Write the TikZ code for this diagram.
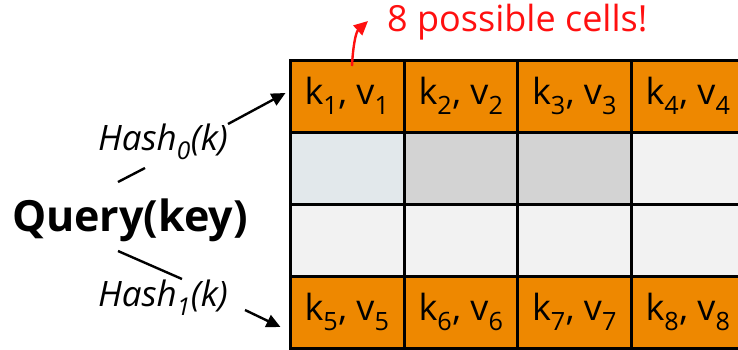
\documentclass[tikz,border=0pt]{standalone}
\usepackage{fontspec}
\setmainfont{Open Sans}
\usetikzlibrary{arrows.meta,calc}
\definecolor{cellorange}{HTML}{EE8800}
\definecolor{cellblue}{HTML}{E2E8EB}
\definecolor{cellgray}{HTML}{D3D3D3}
\definecolor{celllight}{HTML}{F2F2F2}
\definecolor{alertred}{HTML}{FF1010}
\tikzset{
  cell/.style={draw=black, line width=3pt, minimum width=114pt, minimum height=72pt, inner sep=0pt, font=\fontsize{36}{42}\selectfont},
  hashlabel/.style={font=\fontsize{35}{40}\selectfont\itshape, inner sep=0pt},
  conn/.style={line width=2.4pt, black},
  arr/.style={conn, -{Triangle[length=14pt,width=13pt]}},
}
\begin{document}
\begin{tikzpicture}[x=1pt,y=-1pt]
\useasboundingbox (0,0) rectangle (738,349);
% row 1
\node[cell, fill=cellorange] (c11) at (347,96) {k\textsubscript{1}, v\textsubscript{1}};
\node[cell, fill=cellorange] (c12) at (461,96) {k\textsubscript{2}, v\textsubscript{2}};
\node[cell, fill=cellorange] (c13) at (574.5,96) {k\textsubscript{3}, v\textsubscript{3}};
\node[cell, fill=cellorange] (c14) at (688,96) {k\textsubscript{4}, v\textsubscript{4}};
% row 2
\node[cell, fill=cellblue] (c21) at (347,168) {};
\node[cell, fill=cellgray] (c22) at (461,168) {};
\node[cell, fill=cellgray] (c23) at (574.5,168) {};
\node[cell, fill=celllight] (c24) at (688,168) {};
% row 3
\node[cell, fill=celllight] (c31) at (347,240) {};
\node[cell, fill=celllight] (c32) at (461,240) {};
\node[cell, fill=celllight] (c33) at (574.5,240) {};
\node[cell, fill=celllight] (c34) at (688,240) {};
% row 4
\node[cell, fill=cellorange] (c41) at (347,312) {k\textsubscript{5}, v\textsubscript{5}};
\node[cell, fill=cellorange] (c42) at (461,312) {k\textsubscript{6}, v\textsubscript{6}};
\node[cell, fill=cellorange] (c43) at (574.5,312) {k\textsubscript{7}, v\textsubscript{7}};
\node[cell, fill=cellorange] (c44) at (688,312) {k\textsubscript{8}, v\textsubscript{8}};
% labels
\node[font=\fontsize{43}{50}\selectfont\bfseries, inner sep=0pt] (query) at (130,220) {Query(key)};
\node[hashlabel] (hash0) at (163,142) {Hash\textsubscript{0}(k)};
\node[hashlabel] (hash1) at (163,298) {Hash\textsubscript{1}(k)};
\node[font=\fontsize{36}{42}\selectfont, text=alertred, inner sep=0pt, anchor=west] (note) at (387,22) {8 possible cells!};
% connectors
\coordinate (q0a) at (118,182);
\coordinate (q0b) at (145,168);
\coordinate (q1a) at (118,251);
\coordinate (q1b) at (182,279);
\coordinate (h0s) at (228,124);
\coordinate (h0e) at ($(c11.west)+(-3,-3)$);
\coordinate (h1s) at (245,310);
\coordinate (h1e) at ($(c41.west)+(-8,15)$);
\coordinate (rs) at (352,66);
\coordinate (re) at (368,21);
\draw[conn] (q0a) -- (q0b);
\draw[conn] (q1a) -- (q1b);
\draw[arr] (h0s) -- (h0e);
\draw[arr] (h1s) -- (h1e);
\draw[line width=2.4pt, alertred, -{Triangle[length=14pt,width=13pt]}] (rs) .. controls (353,45) and (356,32) .. (re);
\end{tikzpicture}
\end{document}
